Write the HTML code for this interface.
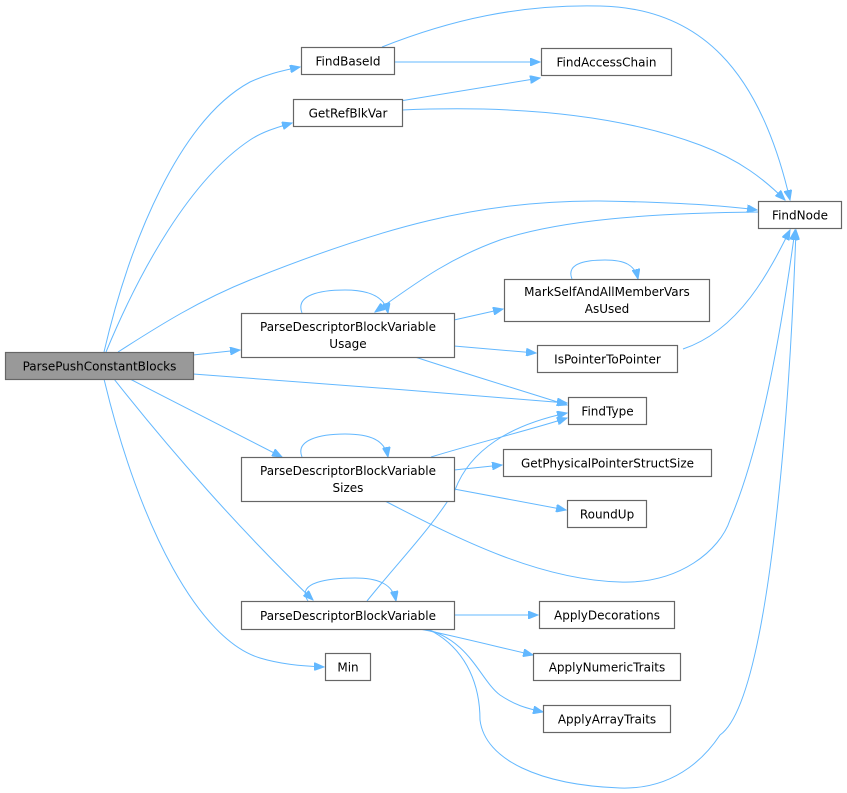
<!DOCTYPE html>
<html><head><meta charset="utf-8"><style>
html,body{margin:0;padding:0;background:#fff;}
svg{display:block;}
text{font-family:"DejaVu Sans","Liberation Sans",sans-serif;font-size:12px;fill:#000;}
.b{fill:#fff;stroke:#666;stroke-width:1.2;}
.e{fill:none;stroke:#63b8ff;stroke-width:1;}
</style></head><body>
<svg width="847" height="793" viewBox="0 0 847 793" xmlns="http://www.w3.org/2000/svg">
<defs><marker id="a" markerWidth="11" markerHeight="8" refX="10" refY="4" orient="auto" markerUnits="userSpaceOnUse"><path d="M0,0 L10,4 L0,8 z" fill="#63b8ff" stroke="#63b8ff"/></marker></defs>
<g class="e" marker-end="url(#a)">
<path d="M104,352 C130,240 180,120 250,82 C265,75 280,71 300,67"/>
<path d="M106,352 C140,270 190,180 250,140 C262,132 275,128 292,123"/>
<path d="M118,352 C160,325 200,300 250,280 C380,228 480,200 600,201 C660,202 720,205 757,210"/>
<path d="M193,355 L240,350"/>
<path d="M193,374 C300,382 450,393 567,403"/>
<path d="M130,379 C180,405 230,430 282,457"/>
<path d="M114,379 C170,450 240,530 313,600"/>
<path d="M104,379 C140,530 200,640 260,658 C280,664 300,666 324,667"/>
<path d="M394,62 L540,62"/>
<path d="M400,101 L540,78"/>
<path d="M382,47 C450,20 520,4 600,6 C700,8 760,70 790,200"/>
<path d="M402,110 C520,105 620,115 700,145 C740,160 765,180 785,200"/>
<path d="M454,320 L503,309"/>
<path d="M454,346 L536,353"/>
<path d="M415,357 C470,375 520,390 567,405"/>
<path d="M683,349 C740,330 770,270 790,230"/>
<path d="M760,212 C650,213 560,220 500,240 C450,258 420,280 375,312"/>
<path d="M302,313 C295,295 320,290 345,290 C370,290 385,297 388,313"/>
<path d="M572,279 C565,262 590,260 605,260 C625,260 635,265 638,279"/>
<path d="M431,457 C480,442 530,430 567,418"/>
<path d="M454,470 L502,465"/>
<path d="M454,489 L566,510"/>
<path d="M385,501 C460,540 540,580 620,582 C680,584 720,550 730,520 C760,450 780,340 795,230"/>
<path d="M302,457 C295,440 320,434 345,434 C370,434 385,440 388,457"/>
<path d="M367,601 C400,560 430,530 455,490 C470,450 510,425 567,413"/>
<path d="M454,615 L538,615"/>
<path d="M420,629 C450,635 490,645 533,655"/>
<path d="M425,629 C470,640 480,680 500,695 C515,705 525,708 543,712"/>
<path d="M428,629 C470,650 480,690 480,720 C485,760 540,785 620,788 C680,790 710,750 720,735 C770,700 790,400 796,230"/>
<path d="M308,601 C295,582 330,578 355,578 C380,578 393,585 396,601"/>
</g>
<rect class="b" x="5.5" y="352.5" width="188" height="27" style="fill:#999"/>
<text x="99.5" y="370.5" text-anchor="middle">ParsePushConstantBlocks</text>
<rect class="b" x="301.5" y="47.5" width="93" height="27"/><text x="348" y="65.5" text-anchor="middle">FindBaseId</text>
<rect class="b" x="293.5" y="99.5" width="109" height="27"/><text x="348" y="117.5" text-anchor="middle">GetRefBlkVar</text>
<rect class="b" x="541.5" y="48.5" width="130" height="27"/><text x="606.5" y="66.5" text-anchor="middle">FindAccessChain</text>
<rect class="b" x="758.5" y="201.5" width="83" height="27"/><text x="800" y="219.5" text-anchor="middle">FindNode</text>
<rect class="b" x="241.5" y="313.5" width="213" height="44"/><text x="348" y="331" text-anchor="middle">ParseDescriptorBlockVariable</text><text x="348" y="348" text-anchor="middle">Usage</text>
<rect class="b" x="504.5" y="279.5" width="205" height="42"/><text x="607" y="296" text-anchor="middle">MarkSelfAndAllMemberVars</text><text x="607" y="313" text-anchor="middle">AsUsed</text>
<rect class="b" x="537.5" y="345.5" width="140" height="27"/><text x="607.5" y="363.5" text-anchor="middle">IsPointerToPointer</text>
<rect class="b" x="568.5" y="397.5" width="78" height="27"/><text x="607.5" y="415.5" text-anchor="middle">FindType</text>
<rect class="b" x="241.5" y="457.5" width="213" height="44"/><text x="348" y="475" text-anchor="middle">ParseDescriptorBlockVariable</text><text x="348" y="492" text-anchor="middle">Sizes</text>
<rect class="b" x="503.5" y="449.5" width="208" height="27"/><text x="607.5" y="467.5" text-anchor="middle">GetPhysicalPointerStructSize</text>
<rect class="b" x="567.5" y="500.5" width="79" height="27"/><text x="607" y="518.5" text-anchor="middle">RoundUp</text>
<rect class="b" x="241.5" y="601.5" width="213" height="28"/><text x="348" y="620" text-anchor="middle">ParseDescriptorBlockVariable</text>
<rect class="b" x="539.5" y="601.5" width="135" height="27"/><text x="607" y="619.5" text-anchor="middle">ApplyDecorations</text>
<rect class="b" x="533.5" y="653.5" width="147" height="27"/><text x="607" y="671.5" text-anchor="middle">ApplyNumericTraits</text>
<rect class="b" x="543.5" y="705.5" width="127" height="27"/><text x="607" y="723.5" text-anchor="middle">ApplyArrayTraits</text>
<rect class="b" x="325.5" y="653.5" width="45" height="27"/><text x="348" y="671.5" text-anchor="middle">Min</text>
</svg>
</body></html>
